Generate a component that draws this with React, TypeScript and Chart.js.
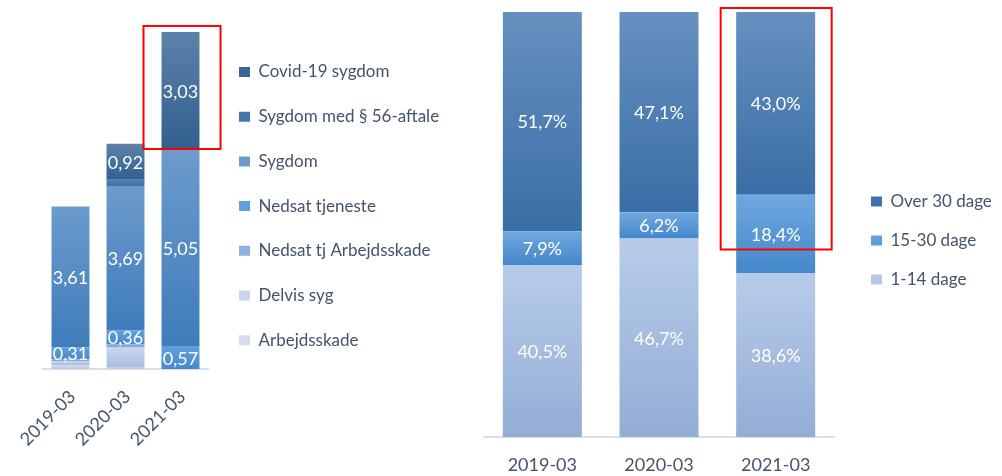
import React, { useEffect, useRef } from 'react';
import { Chart, registerables } from 'chart.js';
Chart.register(...registerables);

// ---------- data ----------
const leftCategories = ['2019-03', '2020-03', '2021-03'];
const arbejdsskade = [0.1, 0.03, 0];
const delvisSyg = [0.1, 0.52, 0];
const nedsatTjArbejdsskade = [0.05, 0.08, 0];
const nedsatTjeneste = [0.31, 0.36, 0.57];
const sygdom = [3.61, 3.69, 5.05];
const sygdom56 = [0, 0.18, 0];
const covid = [0, 0.92, 3.03];
const leftLabelledSeries = ['Nedsat tjeneste', 'Sygdom', 'Covid-19 sygdom'];

const rightCategories = ['2019-03', '2020-03', '2021-03'];
const dage1til14 = [40.5, 46.7, 38.6];
const dage15til30 = [7.9, 6.2, 18.4];
const over30 = [51.7, 47.1, 43.0];

const TEXT = '#44546a';
const FONT = 'Lato';
const LEGEND_SIZE = 17;

function vGrad(top: string, bottom: string, solid: string) {
  return (c: any) => {
    if (!c || c.type !== 'data') return solid;
    const chart = c.chart;
    const ys = chart.scales && chart.scales.y;
    if (!ys) return solid;
    const i = c.dataIndex;
    const d = c.datasetIndex;
    let start = 0;
    for (let k = 0; k < d; k++) start += chart.data.datasets[k].data[i] || 0;
    const end = start + (chart.data.datasets[d].data[i] || 0);
    const y0 = ys.getPixelForValue(end);
    const y1 = ys.getPixelForValue(start);
    if (!isFinite(y0) || !isFinite(y1) || Math.abs(y1 - y0) < 0.5) return solid;
    const g = chart.ctx.createLinearGradient(0, y0, 0, y1);
    g.addColorStop(0, top);
    g.addColorStop(1, bottom);
    return g;
  };
}

function makeLabels(
  min: number,
  only: string[] | null,
  fmt: (v: number) => string,
  hl: { catIndex: number; topVal: number; botVal: number; dxL: number; dxR: number; dyT: number; dyB: number }
) {
  return {
    id: 'valueLabels',
    afterDatasetsDraw(chart: any) {
      const ctx = chart.ctx;
      ctx.save();
      ctx.font = `18px ${FONT}`;
      ctx.fillStyle = '#ffffff';
      ctx.textAlign = 'center';
      ctx.textBaseline = 'middle';
      chart.data.datasets.forEach((ds: any, di: number) => {
        if (only && only.indexOf(ds.label) < 0) return;
        const meta = chart.getDatasetMeta(di);
        meta.data.forEach((el: any, i: number) => {
          const v = ds.data[i];
          if (v < min) return;
          const p = el.getProps(['x', 'y', 'base'], true);
          ctx.fillText(fmt(v), p.x, (p.y + p.base) / 2 + 1);
        });
      });
      ctx.restore();
    },
    afterDraw(chart: any) {
      const ctx = chart.ctx;
      const xs = chart.scales.x;
      const ys = chart.scales.y;
      const cx = xs.getPixelForValue(hl.catIndex);
      const yt = ys.getPixelForValue(hl.topVal) + hl.dyT;
      const yb = ys.getPixelForValue(hl.botVal) + hl.dyB;
      ctx.save();
      ctx.strokeStyle = '#ff0000';
      ctx.lineWidth = 2;
      ctx.strokeRect(cx + hl.dxL, yt, hl.dxR - hl.dxL, yb - yt);
      ctx.restore();
    },
  };
}

const fmtNum = (v: number) => v.toFixed(2).replace('.', ',');
const fmtPct = (v: number) => v.toFixed(1).replace('.', ',') + '%';

function textWidth(texts: string[], size: number) {
  const c = document.createElement('canvas').getContext('2d')!;
  c.font = `${size}px ${FONT}`;
  return Math.max(...texts.map((t) => c.measureText(t).width));
}

export default function App() {
  const leftRef = useRef<HTMLCanvasElement>(null);
  const rightRef = useRef<HTMLCanvasElement>(null);

  useEffect(() => {
    Chart.defaults.font.family = FONT;
    Chart.defaults.color = TEXT;

    const leftTotal2021 = arbejdsskade[2] + delvisSyg[2] + nedsatTjArbejdsskade[2] + nedsatTjeneste[2] + sygdom[2] + sygdom56[2] + covid[2];
    const leftBelowCovid2021 = leftTotal2021 - covid[2];

    const leftNames = ['Arbejdsskade', 'Delvis syg', 'Nedsat tj Arbejdsskade', 'Nedsat tjeneste', 'Sygdom', 'Sygdom med § 56-aftale', 'Covid-19 sygdom'];
    const rightNames = ['1-14 dage', '15-30 dage', 'Over 30 dage'];

    // left legend geometry
    const lPad = 27.7;
    const lBox = 11;
    const lLegendLeft = 239 - lPad;
    const lNatural = lPad + lBox + LEGEND_SIZE / 2 + textWidth(leftNames, LEGEND_SIZE) + 10;
    const lW = 470;
    const lRight = Math.max(0, lW - lLegendLeft - lNatural);

    const rPad = 22;
    const rBox = 11;
    const rLegendLeft = 401 - rPad;
    const rNatural = rPad + rBox + LEGEND_SIZE / 2 + textWidth(rightNames, LEGEND_SIZE) + 10;
    const rW = 532;
    const rRight = Math.max(0, rW - rLegendLeft - rNatural);

    const left = new Chart(leftRef.current!, {
      type: 'bar',
      data: {
        labels: leftCategories,
        datasets: [
          { label: leftNames[0], data: arbejdsskade, backgroundColor: vGrad('#d3ddef', '#b7c6e0', '#c6d3ea') },
          { label: leftNames[1], data: delvisSyg, backgroundColor: vGrad('#c9d6ed', '#a9bcdc', '#a8c0e2') },
          { label: leftNames[2], data: nedsatTjArbejdsskade, backgroundColor: vGrad('#8fb2df', '#7aa0d3', '#80a6d9') },
          { label: leftNames[3], data: nedsatTjeneste, backgroundColor: vGrad('#62a0dc', '#4688cc', '#4f93d6') },
          { label: leftNames[4], data: sygdom, backgroundColor: vGrad('#6c9bcc', '#3e7cbb', '#4a86c6') },
          { label: leftNames[5], data: sygdom56, backgroundColor: vGrad('#4f81b6', '#3f72a8', '#4577ad') },
          { label: leftNames[6], data: covid, backgroundColor: vGrad('#5e82aa', '#305f8f', '#3b6898') },
        ],
      },
      options: {
        responsive: false,
        animation: false,
        layout: { padding: { left: 43, top: 0, right: lRight, bottom: 0 } },
        datasets: { bar: { barPercentage: 0.69, categoryPercentage: 1, borderWidth: 0 } },
        plugins: {
          tooltip: { enabled: false },
          legend: {
            position: 'right',
            align: 'start',
            reverse: true,
            maxWidth: 600,
            title: { display: true, text: ' ', font: { size: 10 }, padding: { top: 63.5 - lPad - 12, bottom: 0 } },
            labels: { boxWidth: lBox, boxHeight: 10, padding: lPad, color: TEXT, font: { size: LEGEND_SIZE, family: FONT } },
          },
        },
        scales: {
          x: {
            stacked: true,
            grid: { display: false },
            border: { display: true, color: '#d9dee8', width: 2 },
            ticks: { minRotation: 45, maxRotation: 45, padding: 9, labelOffset: 2, color: TEXT, font: { size: 18, family: FONT } },
            afterFit: (s: any) => { s.height = 107; },
          },
          y: {
            stacked: true,
            position: 'right',
            min: 0,
            max: 9.47,
            ticks: { display: false },
            grid: { display: false },
            border: { display: false },
            afterFit: (s: any) => { s.width = lLegendLeft - 208; },
          },
        },
      },
      plugins: [makeLabels(0.3, leftLabelledSeries, fmtNum, { catIndex: 2, topVal: leftTotal2021, botVal: leftBelowCovid2021, dxL: -37, dxR: 40, dyT: -6, dyB: -1 })],
    } as any);

    const right = new Chart(rightRef.current!, {
      type: 'bar',
      data: {
        labels: rightCategories,
        datasets: [
          { label: rightNames[0], data: dage1til14, backgroundColor: vGrad('#b8cce9', '#93add6', '#a9c1e3') },
          { label: rightNames[1], data: dage15til30, backgroundColor: vGrad('#70a8df', '#4388cb', '#4f93d6') },
          { label: rightNames[2], data: over30, backgroundColor: vGrad('#6690c0', '#3a6ea6', '#4576ad') },
        ],
      },
      options: {
        responsive: false,
        animation: false,
        layout: { padding: { left: 14, top: 12, right: rRight, bottom: 0 } },
        datasets: { bar: { barPercentage: 0.677, categoryPercentage: 1, borderWidth: 0 } },
        plugins: {
          tooltip: { enabled: false },
          legend: {
            position: 'right',
            align: 'start',
            reverse: true,
            maxWidth: 600,
            title: { display: true, text: ' ', font: { size: 10 }, padding: { top: 193 - 12 - rPad - 12, bottom: 0 } },
            labels: { boxWidth: rBox, boxHeight: 10, padding: rPad, color: TEXT, font: { size: LEGEND_SIZE, family: FONT } },
          },
        },
        scales: {
          x: {
            stacked: true,
            grid: { display: false },
            border: { display: true, color: '#d9dee8', width: 2 },
            ticks: { maxRotation: 0, minRotation: 0, padding: 9, color: TEXT, font: { size: 18, family: FONT } },
            afterFit: (s: any) => { s.height = 39; },
          },
          y: {
            stacked: true,
            position: 'right',
            min: 0,
            max: 100,
            ticks: { display: false },
            grid: { display: false },
            border: { display: false },
            afterFit: (s: any) => { s.width = rLegendLeft - 364; },
          },
        },
      },
      plugins: [makeLabels(0, null, fmtPct, { catIndex: 2, topVal: 100, botVal: dage1til14[2] + dage15til30[2] * 0.3, dxL: -55, dxR: 56, dyT: -4, dyB: 0 })],
    } as any);

    return () => {
      left.destroy();
      right.destroy();
    };
  }, []);

  return (
    <div style={{ position: 'fixed', left: 0, top: 0, width: 1002, height: 476, background: '#ffffff' }}>
      <canvas ref={leftRef} width={470} height={476} style={{ position: 'absolute', left: 0, top: 0 }} />
      <canvas ref={rightRef} width={532} height={476} style={{ position: 'absolute', left: 470, top: 0 }} />
    </div>
  );
}
